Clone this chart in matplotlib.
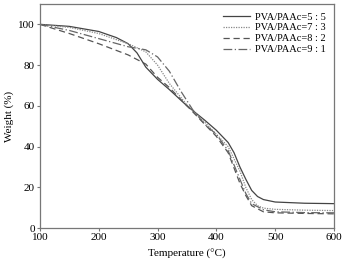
import matplotlib
matplotlib.use("Agg")
import matplotlib.pyplot as plt

plt.rcParams['font.family'] = ['Liberation Serif', 'DejaVu Serif']

t55 = [100, 150, 200, 230, 250, 265, 280, 300, 320, 350, 380, 400, 420, 430, 440, 450, 460, 470, 480, 500, 550, 600]
w55 = [100, 99, 96.5, 93.5, 90.5, 86, 79, 73, 68, 60, 53, 48, 42, 37, 30, 24, 18.5, 15.5, 14, 12.8, 12.2, 12]

t73 = [100, 150, 200, 250, 280, 300, 320, 350, 380, 400, 420, 440, 450, 460, 470, 480, 500, 550, 600]
w73 = [100, 98.5, 95.5, 90.5, 86.5, 80, 71, 60.5, 52, 46, 40, 28, 20, 14, 11, 9.8, 9.2, 8.8, 8.6]

t82 = [100, 150, 200, 250, 280, 300, 320, 350, 380, 400, 420, 440, 450, 460, 480, 500, 550, 600]
w82 = [100, 95.5, 90.5, 85, 80.5, 74, 69, 60, 51, 45, 37, 22, 16, 11, 8, 7.5, 7.2, 7]

t91 = [100, 150, 200, 250, 280, 300, 320, 340, 360, 380, 400, 420, 440, 450, 460, 480, 500, 550, 600]
w91 = [100, 97, 93, 89, 87.5, 84, 77, 67, 58, 51, 46, 38, 24, 17, 12, 9, 8, 7.6, 7.5]

labels = ['PVA/PAAc=5 : 5', 'PVA/PAAc=7 : 3', 'PVA/PAAc=8 : 2', 'PVA/PAAc=9 : 1']

fig = plt.figure(figsize=(3.44, 2.64), dpi=100)
ax = fig.add_axes([0.116, 0.136, 0.855, 0.849])

ax.plot(t55, w55, color='#444444', lw=0.9, ls='-', label=labels[0])
ax.plot(t73, w73, color='#888888', lw=0.9, ls=(0, (1, 1)), label=labels[1])
ax.plot(t82, w82, color='#555555', lw=0.9, ls=(0, (5, 3)), label=labels[2])
ax.plot(t91, w91, color='#666666', lw=0.9, ls=(0, (7, 2, 1, 2)), label=labels[3])

ax.set_xlim(100, 600)
ax.set_ylim(0, 110)
ax.set_xticks([100, 200, 300, 400, 500, 600])
ax.set_yticks([0, 20, 40, 60, 80, 100])
for s in ax.spines.values():
    s.set_color('#777777')
    s.set_linewidth(0.9)
ax.tick_params(direction='out', length=2.5, width=0.8, color='#777777', labelsize=8, pad=1)
ax.set_xlabel('Temperature (°C)', fontsize=8, labelpad=5)
ax.set_ylabel('Weight (%)', fontsize=8, labelpad=3)

ax.legend(loc='upper right', frameon=False, fontsize=7.5, handlelength=2.6,
          handletextpad=0.5, labelspacing=0.15, borderaxespad=0.4)

fig.savefig('out.png', dpi=100)
